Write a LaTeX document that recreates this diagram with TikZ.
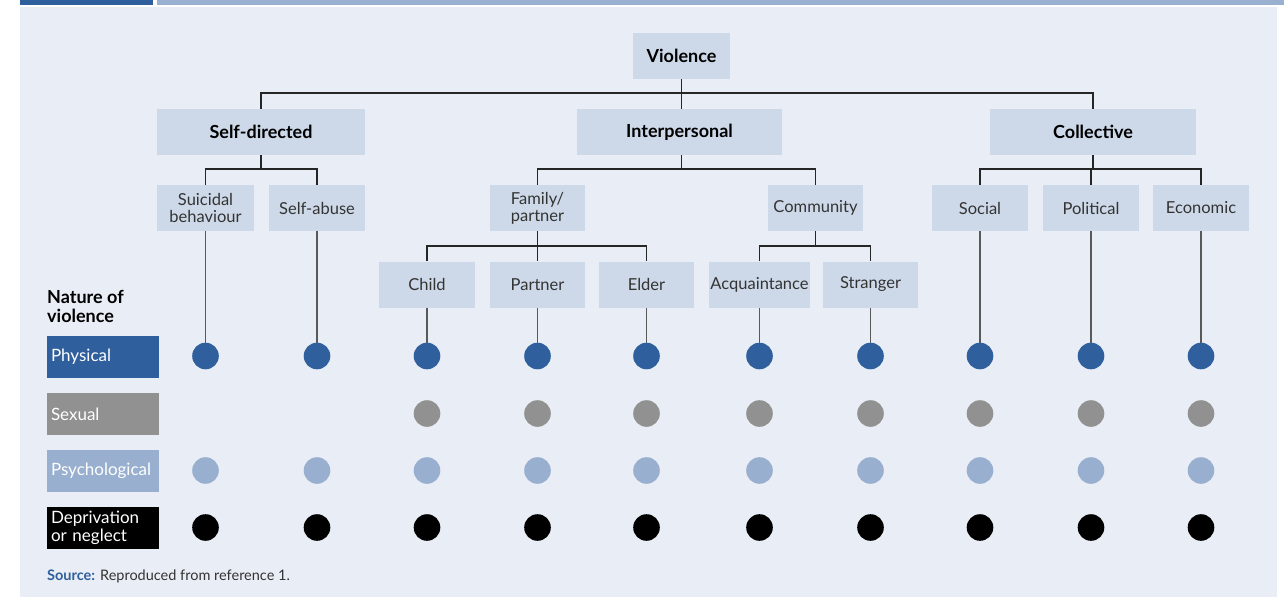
\documentclass[tikz,border=0pt]{standalone}
\usepackage{fontspec}
\setmainfont{Lato}
\definecolor{panel}{HTML}{E9EDF5}
\definecolor{boxc}{HTML}{CDD9E8}
\definecolor{dblue}{HTML}{2F5F9C}
\definecolor{lblue}{HTML}{9AB0D0}
\definecolor{psy}{HTML}{98AFCF}
\definecolor{sgray}{HTML}{919191}
\definecolor{txt}{HTML}{333333}
\begin{document}
\begin{tikzpicture}[x=1pt,y=-1pt,
  box/.style={fill=boxc, inner sep=0pt, minimum height=46pt, align=center, text=txt, font=\fontsize{16.5}{17}\selectfont},
  bbox/.style={box, text=black, font=\fontsize{18}{19}\selectfont\bfseries},
  tree/.style={draw=black!85, line width=1.1pt},
  leaf/.style={draw=black!65, line width=1.6pt},
  dot/.style={circle, inner sep=0pt, minimum size=26.6pt},
  leg/.style={inner sep=0pt, minimum width=112pt, minimum height=42pt, text=white, align=left, text width=104pt, font=\fontsize{17}{18}\selectfont}
]
\useasboundingbox (0,0) rectangle (1284,597);
\fill[panel] (20,7) rectangle (1277,597);
\fill[dblue] (20,0) rectangle (153,5);
\fill[lblue] (157,0) rectangle (1284,5);

% top levels
\node[bbox, minimum width=97pt] (viol) at (681.5,56) {Violence};
\node[bbox, minimum width=208pt] (self) at (261,132) {Self-directed};
\node[bbox, minimum width=205pt] (inter) at (679.5,132) {Interpersonal};
\node[bbox, minimum width=206pt] (coll) at (1093,132) {Collective};

% level 2
\node[box, minimum width=97pt] (sui) at (205.5,208) {Suicidal\\behaviour};
\node[box, minimum width=96pt] (sab) at (317,208) {Self-abuse};
\node[box, minimum width=95pt] (fam) at (537.5,208) {Family/\\partner};
\node[box, minimum width=95pt] (com) at (815.5,208) {Community};
\node[box, minimum width=96pt] (soc) at (980,208) {Social};
\node[box, minimum width=96pt] (pol) at (1091,208) {Political};
\node[box, minimum width=96pt] (eco) at (1201,208) {Economic};

% level 3
\node[box, minimum width=96pt] (chi) at (427,284.5) {Child};
\node[box, minimum width=95pt] (par) at (537.5,284.5) {Partner};
\node[box, minimum width=95pt] (eld) at (646.5,284.5) {Elder};
\node[box, minimum width=101pt] (acq) at (759.5,284.5) {Acquaintance};
\node[box, minimum width=95pt] (str) at (870.5,284.5) {Stranger};

% tree connectors
\coordinate (b0) at (681.5,93);
\coordinate (b1) at (0,169);
\coordinate (b2) at (0,246);
\draw[tree] (viol.south) -- (b0);
\draw[tree] (self.north) -- (self.north |- b0) -- (coll.north |- b0) -- (coll.north);
\draw[tree] (b0) -- (b0 |- inter.north);
\draw[tree] (self.south) -- (self.south |- b1);
\draw[tree] (sui.north) -- (sui.north |- b1) -- (sab.north |- b1) -- (sab.north);
\draw[tree] (b0 |- inter.south) -- (b0 |- b1);
\draw[tree] (fam.north) -- (fam.north |- b1) -- (com.north |- b1) -- (com.north);
\draw[tree] (coll.south) -- (coll.south |- b1);
\draw[tree] (pol.north |- b1) -- (pol.north);
\draw[tree] (soc.north) -- (soc.north |- b1) -- (eco.north |- b1) -- (eco.north);
\draw[tree] (fam.south) -- (par.north);
\draw[tree] (chi.north) -- (chi.north |- b2) -- (eld.north |- b2) -- (eld.north);
\draw[tree] (com.south) -- (com.south |- b2);
\draw[tree] (acq.north) -- (acq.north |- b2) -- (str.north |- b2) -- (str.north);

% legend
\node[anchor=north west, align=left, inner sep=0pt, font=\fontsize{18}{19.5}\selectfont\bfseries] (nat) at (47,290) {Nature of\\violence};
\node[leg, fill=dblue] (lp) at (103,357) {Physical};
\node[leg, fill=sgray] (ls) at (103,414) {Sexual};
\node[leg, fill=psy] (lps) at (103,471) {Psychological};
\node[leg, fill=black, font=\fontsize{17}{18}\selectfont] (ld) at (103,528) {Deprivation\\or neglect};

% dots
\foreach \n/\x in {sui/205.5, sab/317, chi/427, par/537.5, eld/646.5, acq/759.5, str/870.5, soc/980, pol/1091, eco/1201} {
  \node[dot, fill=dblue] (p\n) at (\x,356) {};
  \node[dot, fill=psy] (y\n) at (\x,470.5) {};
  \node[dot, fill=black] (d\n) at (\x,527.5) {};
  \draw[leaf] (\n.south) -- (p\n.north);
}
\foreach \n/\x in {chi/427, par/537.5, eld/646.5, acq/759.5, str/870.5, soc/980, pol/1091, eco/1201} {
  \node[dot, fill=sgray] (s\n) at (\x,413.5) {};
}

% source
\node[anchor=west, inner sep=0pt, text=txt, font=\fontsize{14.5}{15}\selectfont] (src) at (47,576) {\textcolor{dblue}{\bfseries Source:} Reproduced from reference 1.};
\end{tikzpicture}
\end{document}
